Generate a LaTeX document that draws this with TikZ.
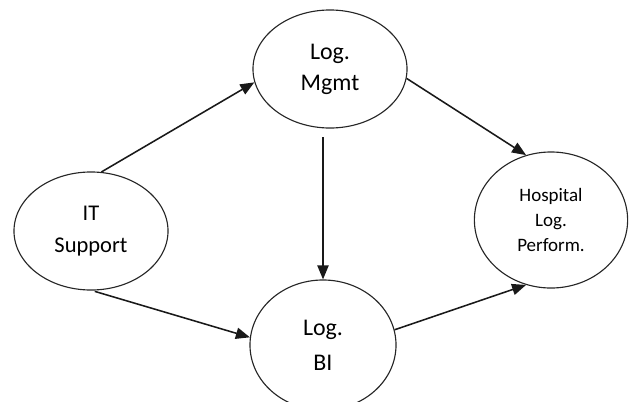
\documentclass[tikz,border=0pt]{standalone}
\usepackage{fontspec}
\setmainfont{Carlito}
\usetikzlibrary{arrows.meta,shapes.geometric}

\begin{document}
\begin{tikzpicture}[x=0.025cm,y=-0.025cm,
        blob/.style={ellipse,draw=black!85,line width=0.8pt,inner sep=0pt,align=center},
        arr/.style={-{Triangle[length=10pt,width=8pt]},line width=1.1pt,black!90}]
    \clip (0,0) rectangle (630,401);
    % the four factors
    \node[blob,minimum width=3.85cm,minimum height=2.95cm,font=\fontsize{17}{22}\selectfont] (mgmt) at (330,69) {Log.\\Mgmt};
    \node[blob,minimum width=3.85cm,minimum height=2.95cm,font=\fontsize{16}{23}\selectfont] (it) at (91,231) {IT\\Support};
    \node[blob,minimum width=3.83cm,minimum height=3.4cm,font=\fontsize{13.5}{18}\selectfont] (hosp) at (551,220) {Hospital\\Log.\\Perform.};
    \node[blob,minimum width=3.65cm,minimum height=3.25cm,font=\fontsize{17}{25}\selectfont] (bi) at (323,345) {Log.\\BI};
    % relations
    \draw[arr] (it.80) -- (mgmt.190);
    \draw[arr] (mgmt.-7) -- (hosp.111);
    \draw[arr,shorten <=6pt] (mgmt.south -| bi.north) -- (bi.north);
    \draw[arr,shorten <=2pt] (it.-89) -- (bi.174);
    \draw[arr] (bi.12) -- (hosp.-111);
\end{tikzpicture}
\end{document}
